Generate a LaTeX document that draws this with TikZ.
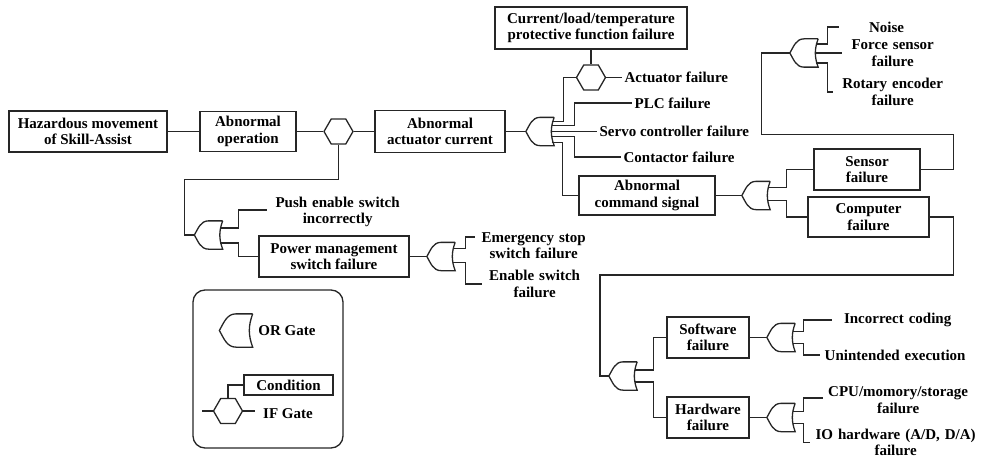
\documentclass[tikz,border=0pt]{standalone}
\usepackage{fontspec}
\setmainfont{Liberation Serif}
\usetikzlibrary{shapes.geometric}

% OR gate, nose to the west, inputs leave from the concave back
\newcommand{\orgate}[3][27pt]{%
  \node[minimum size=#1, inner sep=0pt] (#2) at (#3) {};
  \draw (#2.north east) -- (#2.north) to[out=180,in=60] (#2.west)
    to[out=-60,in=180] (#2.south) -- (#2.south east)
    to[out=110,in=-110] (#2.north east);
}

\begin{document}
\begin{tikzpicture}[x=1pt, y=-1pt, line width=1.3pt, draw=black!85,
  font=\fontsize{15}{16.5}\selectfont\bfseries,
  fbox/.style={draw, fill=white, align=center, inner sep=2pt},
  lbl/.style={align=center, inner sep=2pt},
  ifg/.style={draw, regular polygon, regular polygon sides=6, minimum size=29pt, inner sep=0pt}]
\useasboundingbox (0,0) rectangle (985,460);

\node[fbox, minimum width=158pt, minimum height=41pt] (a) at (88,131.5) {Hazardous movement\\of Skill-Assist};
\node[fbox, minimum width=96pt, minimum height=40pt] (b) at (248,131.5) {Abnormal\\operation};
\node[ifg] (c) at (338.5,131.5) {};
\node[fbox, minimum width=130pt, minimum height=42pt] (d) at (440,131.5) {Abnormal\\actuator current};
\orgate{e}{540,131.5}
\node[fbox, minimum width=192pt, minimum height=42pt] (f) at (591,28) {Current/load/temperature\\protective function failure};
\node[ifg] (g) at (591,77.5) {};
\node[lbl, anchor=west] (h) at (622,77.5) {Actuator failure};
\node[lbl, anchor=west] (i) at (632,103) {PLC failure};
\node[lbl, anchor=west] (j) at (597,131.5) {Servo controller failure};
\node[lbl, anchor=west] (k) at (621,157) {Contactor failure};
\node[fbox, minimum width=136pt, minimum height=39pt] (l) at (647,195.5) {Abnormal\\command signal};
\orgate{m}{756,195.5}
\node[fbox, minimum width=106pt, minimum height=41pt] (n) at (867,169.5) {Sensor\\failure};
\node[fbox, minimum width=121pt, minimum height=40pt] (o) at (868.5,217) {Computer\\failure};
\orgate{p}{804,53}
\node[lbl, anchor=west, text width=90pt] (q) at (839,27) {Noise};
\node[lbl, anchor=west, text width=96pt] (r) at (842,53) {Force sensor\\failure};
\node[lbl, anchor=west, text width=114pt] (s) at (833,92) {Rotary encoder\\failure};

\orgate{t}{208.5,235}
\node[lbl, anchor=west, text width=136pt] (u) at (267,212) {Push enable switch\\incorrectly};
\node[fbox, minimum width=150pt, minimum height=41pt] (v) at (334,256.5) {Power management\\switch failure};
\orgate{w}{441,256.5}
\node[lbl, anchor=west, text width=112pt] (x) at (475,245.5) {Emergency stop\\switch failure};
\node[lbl, anchor=west, text width=100pt] (y) at (482,284) {Enable switch\\failure};

\orgate{z}{623,376}
\node[fbox, minimum width=82pt, minimum height=41pt] (sw) at (708,337.5) {Software\\failure};
\node[fbox, minimum width=82pt, minimum height=41pt] (hw) at (708,417.5) {Hardware\\failure};
\orgate{gs}{781,337.5}
\orgate{gh}{781,417.5}
\node[lbl, anchor=west, text width=126pt] (ic) at (832,320) {Incorrect coding};
\node[lbl, anchor=west, text width=145pt] (ue) at (820,355) {Unintended execution};
\node[lbl, anchor=west, text width=145pt] (cpu) at (823,400) {CPU/momory/storage\\failure};
\node[lbl, anchor=west, text width=166pt] (io) at (810,442.5) {IO hardware (A/D, D/A)\\failure};

% legend
\node[draw, rounded corners=12pt, minimum width=150pt, minimum height=158pt] (lg) at (268,369) {};
\orgate[32pt]{lo}{236,330.5}
\node[lbl] (lt) at (287,331) {OR Gate};
\node[draw, inner sep=1pt, minimum width=89pt, minimum height=20pt] (lc) at (288.5,385) {Condition};
\node[ifg] (lh) at (228,411) {};
\node[lbl] (li) at (288,414) {IF Gate};

\draw (a) -- (b);
\draw (b) -- (c);
\draw (c) -- (d);
\draw (d) -- (e.west);
\draw (f) -- (g);
\draw (g) -- (h);
\draw ([xshift=-2.5pt,yshift=10pt]e.east) -- ++(12,0) |- (g.west);
\draw ([xshift=-2.5pt,yshift=6pt]e.east) -- ++(23,0) |- (i.west);
\draw ([xshift=-2.5pt]e.east) -- (j.west);
\draw ([xshift=-2.5pt,yshift=-5pt]e.east) -- ++(23,0) |- (k.west);
\draw ([xshift=-2.5pt,yshift=-11pt]e.east) -- ++(11,0) |- (l.west);
\draw (l) -- (m.west);
\draw ([xshift=-2.5pt,yshift=8pt]m.east) -- ++(19,0) |- (n.west);
\draw ([xshift=-2.5pt,yshift=-5pt]m.east) -- ++(19,0) |- (o.west);
\draw (n.east) -| ++(33,-35) -| ([xshift=-28.5pt]p.west) -- (p.west);
\draw ([xshift=-2.5pt,yshift=9pt]p.east) -- ++(12,0) |- (q.west);
\draw ([xshift=-2.5pt]p.east) -- (r.west);
\draw ([xshift=-2.5pt,yshift=-10pt]p.east) -- ++(12,0) |- (s.west);

\draw (c.south) -- ++(0,35) -| ([xshift=-10pt]t.west) -- (t.west);
\draw ([xshift=-2.5pt,yshift=7pt]t.east) -- ++(18,0) |- ([yshift=2pt]u.west);
\draw ([xshift=-2.5pt,yshift=-8pt]t.east) -- ++(18,0) |- (v.west);
\draw (v) -- (w.west);
\draw ([xshift=-2.5pt,yshift=8pt]w.east) -- ++(13,0) |- ([yshift=8.5pt]x.west);
\draw ([xshift=-2.5pt,yshift=-6pt]w.east) -- ++(13,0) |- (y.west);

\draw (o.east) -| ++(24,58) -| ([xshift=-9pt]z.west) -- (z.west);
\draw ([xshift=-2.5pt,yshift=6pt]z.east) -- ++(19,0) |- (sw.west);
\draw ([xshift=-2.5pt,yshift=-6pt]z.east) -- ++(19,0) |- (hw.west);
\draw (sw) -- (gs.west);
\draw (hw) -- (gh.west);
\draw ([xshift=-2.5pt,yshift=6pt]gs.east) -- ++(11,0) |- (ic.west);
\draw ([xshift=-2.5pt,yshift=-6pt]gs.east) -- ++(11,0) |- (ue.west);
\draw ([xshift=-2.5pt,yshift=6pt]gh.east) -- ++(11,0) |- ([yshift=2pt]cpu.west);
\draw ([xshift=-2.5pt,yshift=-6pt]gh.east) -- ++(11,0) |- (io.west);

\draw (lh.north) |- (lc.west);
\draw (lh.west) -- ++(-11,0);
\draw (lh.east) -- ++(12,0);
\end{tikzpicture}
\end{document}
